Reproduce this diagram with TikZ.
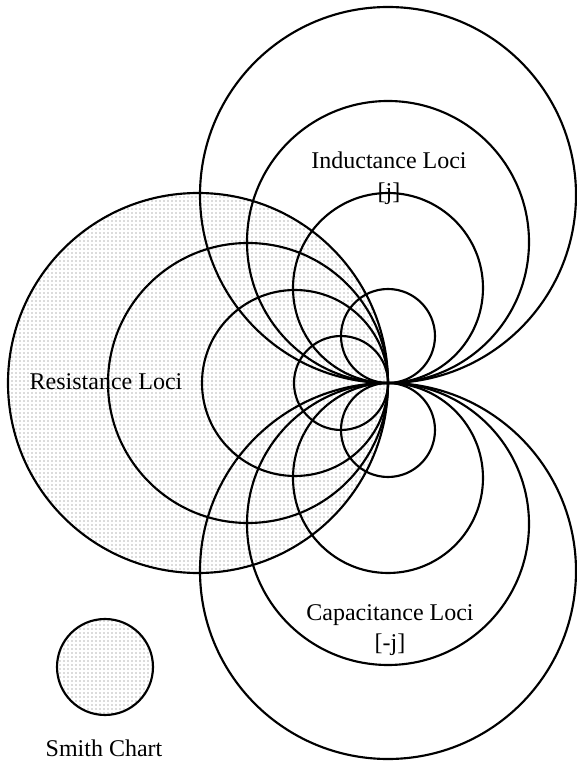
\documentclass[tikz,border=0pt]{standalone}
\usepackage{fontspec}
\setmainfont{Liberation Serif}
\usetikzlibrary{patterns}

\begin{document}
\begin{tikzpicture}[x=0.75pt,y=0.75pt,line width=1.6pt,
    loci/.style={font=\fontsize{18}{23}\selectfont,align=center,inner sep=0pt}]
    \useasboundingbox (0,0) rectangle (576,769);
    \coordinate (T) at (388,386);
    % resistance loci (shaded)
    \fill[pattern=dots,pattern color=black!60] ([xshift=-190*0.75pt]T) circle (190);
    \foreach \rr in {190,140,93,47}
        \draw ([xshift=-\rr*0.75pt]T) circle (\rr);
    % inductance / capacitance loci
    \foreach \rr in {188,141,95,47} {
        \draw ([yshift=\rr*0.75pt]T) circle (\rr);
        \draw ([yshift=-\rr*0.75pt]T) circle (\rr);
    }
    % small smith chart
    \filldraw[pattern=dots,pattern color=black!60] (105,102) circle (48);
    \node[loci] (res) at (106,387) {Resistance Loci};
    \node[loci] (ind) at (389,591) {Inductance Loci\\{[j]}};
    \node[loci] (cap) at (390,139) {Capacitance Loci\\{[-j]}};
    \node[loci] (smith) at (104,21) {Smith Chart};
\end{tikzpicture}
\end{document}
